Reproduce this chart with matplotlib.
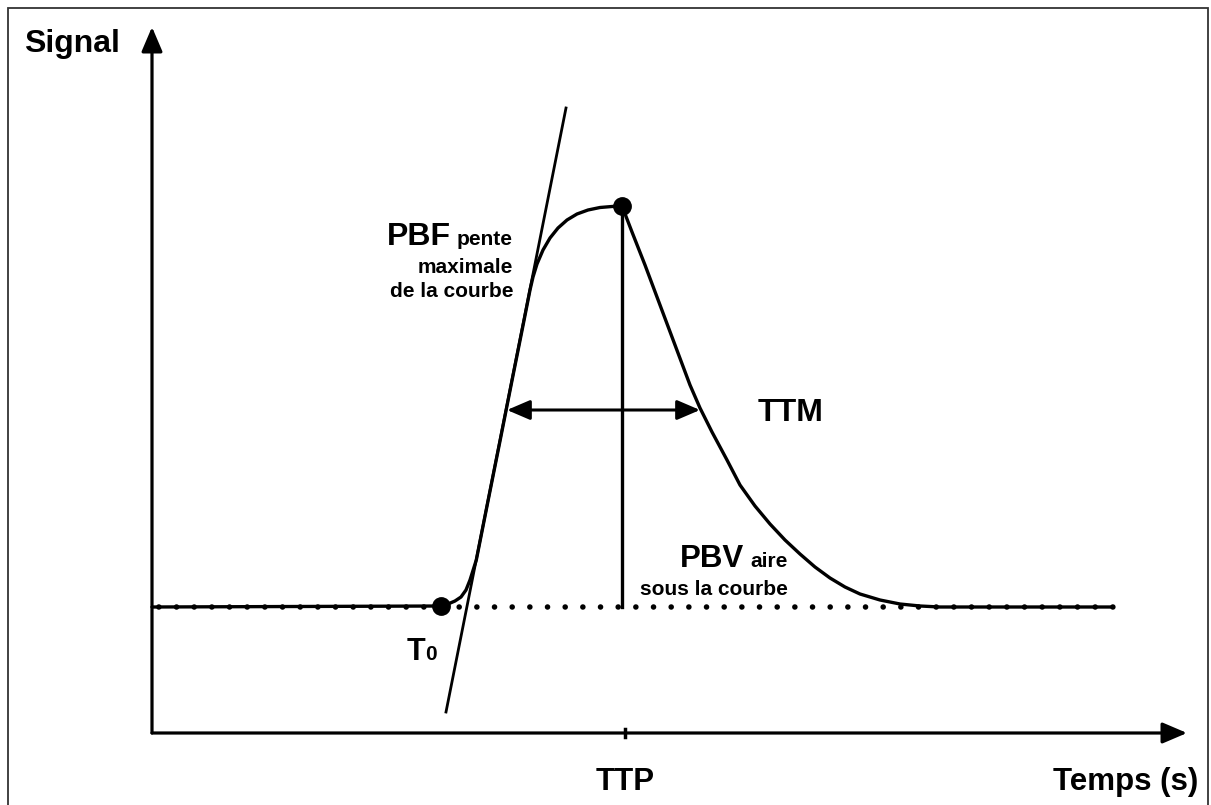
import matplotlib.pyplot as plt
from matplotlib.patches import Rectangle

plt.rcParams['font.family'] = ['Liberation Sans', 'DejaVu Sans']

# courbe de premier passage (temps, signal), unités arbitraires
temps = [0, 28.9, 29.6, 30.3, 30.9, 31.4, 31.8, 32.43, 33.62, 34.82, 36.01,
         37.21, 37.8, 38.1, 38.5, 39.1, 39.8, 40.6, 41.5, 42.5, 43.6, 44.8,
         46.0, 47.0, 48.0, 49.3, 50.8, 52.3, 53.8, 54.8, 56.0, 57.5, 58.8,
         60.3, 61.8, 63.3, 64.8, 66.3, 67.8, 69.3, 70.8, 72.8, 74.8, 76.8,
         78.8, 96.1]
signal = [12.6, 12.7, 12.9, 13.2, 13.6, 14.3, 15.3, 17.3, 23.3, 29.3, 35.3,
          41.3, 44.3, 45.6, 46.9, 48.3, 49.5, 50.5, 51.3, 51.9, 52.3, 52.55,
          52.65, 52.7, 50.1, 46.8, 42.8, 38.8, 34.8, 32.5, 30.1, 27.3, 24.8,
          22.7, 20.9, 19.3, 17.9, 16.6, 15.5, 14.6, 13.9, 13.3, 12.9, 12.7,
          12.6, 12.6]

ligne_base = 12.6
t_fin = 96.3
t0 = (28.9, 12.7)
pic = (47.0, 52.7)
tangente_t = [29.4, 41.4]
tangente_s = [2.1, 62.5]
ttm_s = 32.3
ttm_t = [35.5, 54.8]
ttp_tick = 47.3
x_max = 103.5
y_max = 70.6

fig = plt.figure(figsize=(12.11, 8.05), dpi=100)
ax = fig.add_axes([0, 0, 1, 1])
ax.set_xlim(-15.2, 105.9)
ax.set_ylim(-7.2, 73.3)
ax.axis('off')

# cadre
fig.patches.append(Rectangle((8 / 1211, -0.05), 1200 / 1211, 1.05 - 8 / 805,
                             transform=fig.transFigure, fill=False,
                             edgecolor='#333333', lw=1.3))

# axes avec flèches
fleche = dict(arrowstyle='-|>,head_length=0.75,head_width=0.32', lw=2.3,
              color='black', mutation_scale=20, shrinkA=0, shrinkB=0)
ax.annotate('', xy=(0, y_max), xytext=(0, 0), arrowprops=fleche)
ax.annotate('', xy=(x_max, 0), xytext=(0, 0), arrowprops=fleche)
ax.plot([ttp_tick, ttp_tick], [-0.4, 0.4], color='black', lw=2.5)

# ligne de base pointillée
ax.plot([0, t_fin], [ligne_base + 0.05, ligne_base + 0.05], color='black',
        lw=4.0, linestyle=(1.95, (0.01, 3.17)), dash_capstyle='round')

# tangente (pente maximale)
ax.plot(tangente_t, tangente_s, color='black', lw=2.0)

# courbe
ax.plot(temps, signal, color='black', lw=2.4, solid_joinstyle='round',
        solid_capstyle='round')

# TTP vertical
ax.plot([pic[0], pic[0]], [ligne_base, pic[1]], color='black', lw=2.4)

# TTM double flèche
ax.annotate('', xy=(ttm_t[1], ttm_s), xytext=(ttm_t[0], ttm_s),
            arrowprops=dict(arrowstyle='<|-|>,head_length=0.7,head_width=0.3',
                            lw=2.2, color='black', mutation_scale=20,
                            shrinkA=0, shrinkB=0))

# points
ax.plot(*t0, 'o', color='black', markersize=12.5)
ax.plot(*pic, 'o', color='black', markersize=12.5)

# textes
gras = dict(fontweight='bold', color='black', va='baseline')
ax.text(-12.8, 68.1, 'Signal', fontsize=23, ha='left', **gras)
ax.text(23.5, 48.8, 'PBF', fontsize=23, ha='left', **gras)
ax.text(36.1, 48.8, 'pente', fontsize=15, ha='right', **gras)
ax.text(36.1, 46.0, 'maximale', fontsize=15, ha='right', **gras)
ax.text(36.1, 43.6, 'de la courbe', fontsize=15, ha='right', **gras)
ax.text(25.5, 7.3, 'T', fontsize=22, ha='left', **gras)
ax.text(27.3, 7.3, '0', fontsize=15, ha='left', **gras)
ax.text(60.6, 31.2, 'TTM', fontsize=23, ha='left', **gras)
ax.text(52.8, 16.6, 'PBV', fontsize=22.5, ha='left', **gras)
ax.text(63.6, 16.6, 'aire', fontsize=15, ha='right', **gras)
ax.text(63.6, 13.8, 'sous la courbe', fontsize=15, ha='right', **gras)
ax.text(ttp_tick, -5.7, 'TTP', fontsize=22.5, ha='center', **gras)
ax.text(104.6, -5.7, 'Temps (s)', fontsize=22.5, ha='right', **gras)

fig.savefig('out.png', dpi=100, facecolor='white')
